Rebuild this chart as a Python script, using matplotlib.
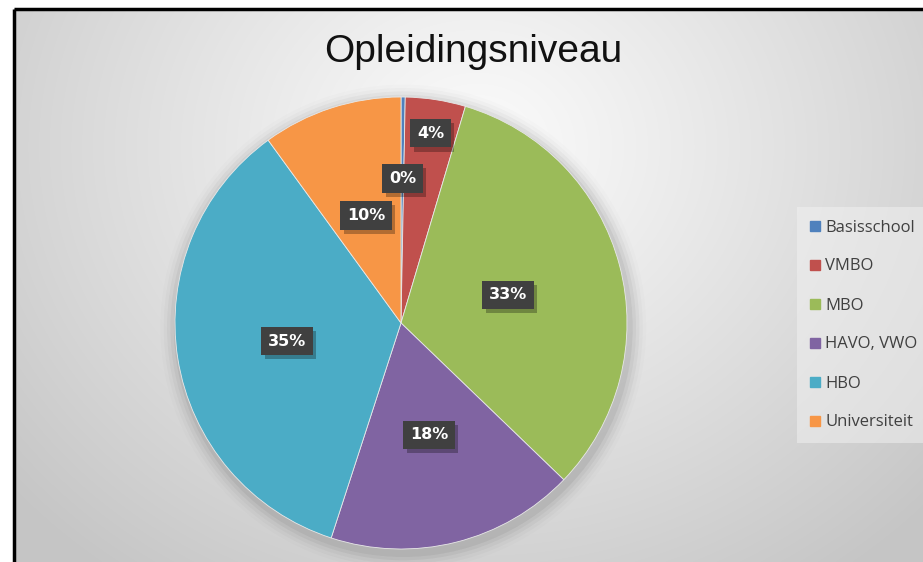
import numpy as np
import matplotlib
matplotlib.use("Agg")
import matplotlib.pyplot as plt
import matplotlib.patheffects as pe
from matplotlib.patches import Circle
from matplotlib.lines import Line2D

# ---- data ----
categories = ["Basisschool", "VMBO", "MBO", "HAVO, VWO", "HBO", "Universiteit"]
values = [0.3, 4.3, 32.6, 17.8, 35.0, 10.0]
pct_labels = ["0%", "4%", "33%", "18%", "35%", "10%"]
colors = ["#4f81bd", "#c0504d", "#9bbb59", "#8064a2", "#4bacc6", "#f79646"]
title = "Opleidingsniveau"

# label radial placement (layout)
label_dist = [0.64, 0.85, 0.49, 0.51, 0.51, 0.50]

W, H = 923, 562
fig = plt.figure(figsize=(W / 100, H / 100), dpi=100)
fig.patch.set_facecolor("white")

# background gradient panel
bg = fig.add_axes([0, 0, 1, 1])
bg.set_xlim(0, W)
bg.set_ylim(H, 0)
bg.axis("off")
yy, xx = np.mgrid[0:H, 0:W]
cx, cy = 470, 140
d = np.sqrt((xx - cx) ** 2 + ((yy - cy) * 1.15) ** 2)
t = np.clip(d / 620, 0, 1) ** 1.1
c0, c1 = 0.985, 0.775
img = c0 + (c1 - c0) * t
left, top = 14, 9
bg.imshow(np.dstack([img] * 3), extent=[left, W, H, top], origin="upper",
          interpolation="bilinear", zorder=0)
bg.plot([left, left], [top, H], color="black", lw=2.5, zorder=2, solid_capstyle="butt")
bg.plot([left, W], [top, top], color="black", lw=2.5, zorder=2, solid_capstyle="butt")

# pie axes
pcx, pcy, R = 401, 323, 226
ax = fig.add_axes([(pcx - R) / W, 1 - (pcy + R) / H, 2 * R / W, 2 * R / H])
ax.set_facecolor("none")

# soft shadow
for i, a in enumerate([0.05, 0.04, 0.03, 0.02, 0.012]):
    ax.add_patch(Circle((0.01, -0.02), 1.0 + 0.015 * (i + 1), color="black",
                        alpha=a, lw=0, clip_on=False, zorder=0))

wedges, _ = ax.pie(values, colors=colors, startangle=90, counterclock=False,
                   wedgeprops=dict(linewidth=0.6, edgecolor="#e8e8e8"))
for w in wedges:
    w.set_zorder(1)
ax.set_xlim(-1, 1)
ax.set_ylim(-1, 1)
ax.set_aspect("equal")
ax.axis("off")

for w, lab, dist in zip(wedges, pct_labels, label_dist):
    ang = np.deg2rad((w.theta1 + w.theta2) / 2)
    x, y = dist * np.cos(ang), dist * np.sin(ang)
    t_ = ax.text(x, y, lab, ha="center", va="center", fontsize=11.5,
                 fontweight="bold", color="white", family="DejaVu Sans", zorder=5,
                 bbox=dict(boxstyle="square,pad=0.42", fc="#404040", ec="none"))
    t_.get_bbox_patch().set_path_effects(
        [pe.SimplePatchShadow(offset=(2.5, -3), shadow_rgbFace="black", alpha=0.28),
         pe.Normal()])

# title
fig.text(473 / W, 1 - 62 / H, title, ha="center", va="baseline", fontsize=28,
         family="Liberation Sans", color="#111111")

# legend
handles = [Line2D([], [], marker="s", linestyle="none", markersize=6.5,
                  markerfacecolor=c, markeredgecolor=c) for c in colors]
leg = fig.legend(handles, categories, loc="upper left",
                 bbox_to_anchor=(802 / W, 1 - 212 / H), frameon=True,
                 prop=dict(family="Open Sans", size=12), labelcolor="#404040",
                 handlelength=0.7, handletextpad=0.25, labelspacing=1.38,
                 borderpad=0.45, borderaxespad=0)
leg.get_frame().set_facecolor("#f2f2f2")
leg.get_frame().set_edgecolor("none")
leg.get_frame().set_alpha(0.5)
leg.get_frame().set_boxstyle("square")

fig.savefig("out.png", dpi=100)
